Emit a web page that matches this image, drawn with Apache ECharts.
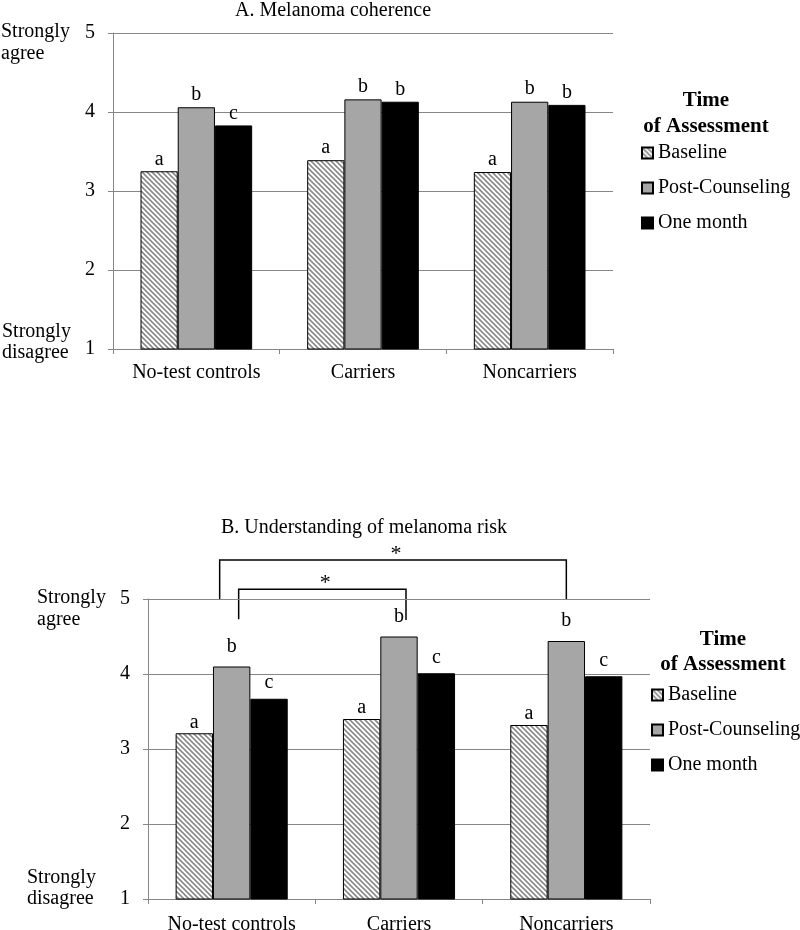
<!DOCTYPE html>
<html><head><meta charset="utf-8">
<script src="https://cdn.jsdelivr.net/npm/echarts@6/dist/echarts.min.js"></script>
<style>html,body{margin:0;padding:0;background:#fff}#c{width:800px;height:930px}</style>
</head><body><div id="c"></div>
<script>
// ---------- data ----------
const categories = ['No-test controls', 'Carriers', 'Noncarriers'];
const seriesNames = ['Baseline', 'Post-Counseling', 'One month'];
const yTickMin = 1, yTickMax = 5, yTickStep = 1;

// Panel A: Melanoma coherence
const titleA = 'A. Melanoma coherence';
const coherenceBaseline = [3.25, 3.39, 3.24];
const coherencePost = [4.06, 4.16, 4.13];
const coherenceMonth = [3.83, 4.13, 4.09];
const coherenceLettersBaseline = ['a', 'a', 'a'];
const coherenceLettersPost = ['b', 'b', 'b'];
const coherenceLettersMonth = ['c', 'b', 'b'];

// Panel B: Understanding of melanoma risk
const titleB = 'B. Understanding of melanoma risk';
const riskBaseline = [3.21, 3.40, 3.32];
const riskPost = [4.10, 4.50, 4.44];
const riskMonth = [3.67, 4.01, 3.97];
const riskLettersBaseline = ['a', 'a', 'a'];
const riskLettersPost = ['b', 'b', 'b'];
const riskLettersMonth = ['c', 'c', 'c'];

// significance brackets in panel B (category indices)
const sigPairs = [[0, 2], [0, 1]];
const sigMark = '*';

// ---------- styling ----------
const FONT = '"Liberation Serif", "Times New Roman", serif';
const FS = 20;
const AX = '#868686';
const GRAY = '#a6a6a6';

function makeHatch() {
  const s = 5;
  const cv = document.createElement('canvas');
  cv.width = s; cv.height = s;
  const ctx = cv.getContext('2d');
  ctx.fillStyle = '#fff'; ctx.fillRect(0, 0, s, s);
  ctx.strokeStyle = '#8a8a8a'; ctx.lineWidth = 1.6;
  ctx.beginPath();
  ctx.moveTo(-1, -1); ctx.lineTo(s + 1, s + 1);
  ctx.moveTo(-1, s - 1); ctx.lineTo(1, s + 1);
  ctx.moveTo(s - 1, -1); ctx.lineTo(s + 1, 1);
  ctx.stroke();
  return cv;
}
const hatch = { image: makeHatch(), repeat: 'repeat' };
const fills = [hatch, GRAY, '#000'];

function barSeries(name, data, letters, fill, idx, dist) {
  return {
    type: 'bar', name, xAxisIndex: idx, yAxisIndex: idx, data,
    barGap: '0%', barCategoryGap: '33%',
    itemStyle: { color: fill, borderColor: '#000', borderWidth: 1 },
    label: {
      show: true, position: 'top', distance: dist,
      formatter: p => letters[p.dataIndex],
      fontFamily: FONT, fontSize: FS, color: '#000'
    },
    emphasis: { disabled: true }, silent: true
  };
}

function xAxis(idx, margin) {
  return {
    type: 'category', gridIndex: idx, data: categories,
    axisLine: { lineStyle: { color: AX, width: 1 } },
    axisTick: { show: true, length: 5, lineStyle: { color: AX } },
    axisLabel: { interval: 0, margin, fontFamily: FONT, fontSize: FS, color: '#000' }
  };
}
function yAxis(idx) {
  return {
    type: 'value', gridIndex: idx, min: yTickMin, max: yTickMax, interval: yTickStep,
    axisLine: { show: true, lineStyle: { color: AX, width: 1 } },
    axisTick: { show: true, length: 5, lineStyle: { color: AX } },
    splitLine: { show: true, lineStyle: { color: AX, width: 1 } },
    axisLabel: { margin: 18, fontFamily: FONT, fontSize: FS, color: '#000' }
  };
}
function legend(left, top) {
  return {
    orient: 'vertical', left, top, padding: 0, itemWidth: 11, itemHeight: 11, itemGap: 15,
    icon: 'rect', selectedMode: false, data: seriesNames,
    textStyle: { fontFamily: FONT, fontSize: FS, color: '#000', lineHeight: 20 }
  };
}
function txt(x, y, text, opt) {
  return {
    type: 'text', x, y, silent: true,
    style: Object.assign({ text, fontFamily: FONT, fontSize: FS, fill: '#000',
      textAlign: 'left', textVerticalAlign: 'middle' }, opt || {})
  };
}

const chart = echarts.init(document.getElementById('c'), null, { renderer: 'canvas' });

const baseGraphics = [
  txt(333, 11, titleA, { textAlign: 'center' }),
  txt(364, 528, titleB, { textAlign: 'center' }),
  txt(706, 101, 'Time', { textAlign: 'center', fontWeight: 'bold', fontSize: 21 }),
  txt(706, 127, 'of Assessment', { textAlign: 'center', fontWeight: 'bold', fontSize: 21 }),
  txt(723, 640, 'Time', { textAlign: 'center', fontWeight: 'bold', fontSize: 21 }),
  txt(723, 665, 'of Assessment', { textAlign: 'center', fontWeight: 'bold', fontSize: 21 }),
  txt(1, 32, 'Strongly'), txt(1, 54, 'agree'),
  txt(2, 332, 'Strongly'), txt(2, 353, 'disagree'),
  txt(37, 598, 'Strongly'), txt(37, 620, 'agree'),
  txt(27, 878, 'Strongly'), txt(27, 899, 'disagree')
];

chart.setOption({
  animation: false,
  backgroundColor: '#fff',
  grid: [
    { left: 113, top: 33, width: 500, height: 316, containLabel: false, outerBoundsMode: 'none' },
    { left: 148, top: 599, width: 502, height: 300, containLabel: false, outerBoundsMode: 'none' }
  ],
  xAxis: [xAxis(0, 14), xAxis(1, 16)],
  yAxis: [yAxis(0), yAxis(1)],
  legend: [legend(641, 143), legend(651, 685)],
  series: [
    barSeries(seriesNames[0], coherenceBaseline, coherenceLettersBaseline, fills[0], 0, 2),
    barSeries(seriesNames[1], coherencePost, coherenceLettersPost, fills[1], 0, 3),
    barSeries(seriesNames[2], coherenceMonth, coherenceLettersMonth, fills[2], 0, 2),
    barSeries(seriesNames[0], riskBaseline, riskLettersBaseline, fills[0], 1, 1),
    barSeries(seriesNames[1], riskPost, riskLettersPost, fills[1], 1, 10),
    barSeries(seriesNames[2], riskMonth, riskLettersMonth, fills[2], 1, 6)
  ],
  graphic: baseGraphics
});

// significance brackets placed through the axes of panel B
const bracketLayout = [
  { fromOff: -12, toOff: 0, top: 5.52, fromEnd: 5.0, toEnd: 5.0 },
  { fromOff: 7, toOff: 7, top: 5.13, fromEnd: 4.73, toEnd: 4.72 }
];
const extra = [];
sigPairs.forEach((pair, i) => {
  const L = bracketLayout[i];
  const a = chart.convertToPixel({ gridIndex: 1 }, [pair[0], L.top]);
  const b = chart.convertToPixel({ gridIndex: 1 }, [pair[1], L.top]);
  const aEnd = chart.convertToPixel({ gridIndex: 1 }, [pair[0], L.fromEnd]);
  const bEnd = chart.convertToPixel({ gridIndex: 1 }, [pair[1], L.toEnd]);
  const x1 = a[0] + L.fromOff, x2 = b[0] + L.toOff, y = a[1];
  extra.push({
    type: 'polyline', silent: true,
    shape: { points: [[x1, aEnd[1]], [x1, y], [x2, y], [x2, bEnd[1]]] },
    style: { stroke: '#000', lineWidth: 1.5, fill: null }
  });
  extra.push(txt((x1 + x2) / 2 + 3, y + 5, sigMark, { textAlign: 'center', textVerticalAlign: 'bottom', fontSize: 22 }));
});
chart.setOption({ graphic: baseGraphics.concat(extra) });
</script>
</body></html>
